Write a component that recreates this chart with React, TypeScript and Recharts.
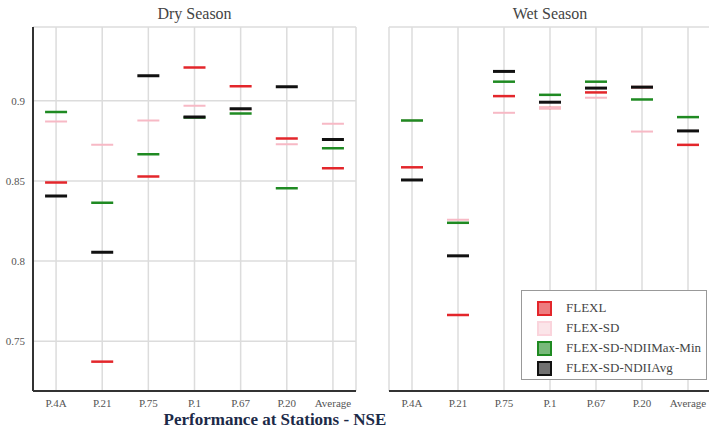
import { ComposedChart, Scatter, XAxis, YAxis, CartesianGrid } from 'recharts';

const stations = ['P.4A', 'P.21', 'P.75', 'P.1', 'P.67', 'P.20', 'Average'];
const yTicks = [0.75, 0.8, 0.85, 0.9];

// Dry season NSE
const dryFlexl = [0.849, 0.7373, 0.8527, 0.9208, 0.9091, 0.8764, 0.8579];
const dryFlexSd = [0.887, 0.8725, 0.8877, 0.8969, 0.8945, 0.8729, 0.8856];
const dryMaxMin = [0.893, 0.8364, 0.8666, 0.8895, 0.892, 0.8454, 0.8704];
const dryAvg = [0.8406, 0.8056, 0.9156, 0.8898, 0.895, 0.9087, 0.8758];

// Wet season NSE
const wetFlexl = [0.8585, 0.7664, 0.9029, 0.8955, 0.9052, 0.9085, 0.8725];
const wetFlexSd = [0.8877, 0.8258, 0.8925, 0.8955, 0.9019, 0.8808, 0.8812];
const wetMaxMin = [0.8877, 0.8239, 0.9119, 0.9037, 0.9119, 0.9008, 0.8898];
const wetAvg = [0.8506, 0.8033, 0.9183, 0.8991, 0.9079, 0.9085, 0.8812];

const series = [
  { key: 'flexl', name: 'FLEXL', color: '#e3262b', width: 2.5 },
  { key: 'flexsd', name: 'FLEX-SD', color: '#f7b9c5', width: 2 },
  { key: 'maxmin', name: 'FLEX-SD-NDIIMax-Min', color: '#1f8a22', width: 2.5 },
  { key: 'avg', name: 'FLEX-SD-NDIIAvg', color: '#111111', width: 3 },
];

const build = (a: number[], b: number[], c: number[], d: number[]) =>
  stations.map((s, i) => ({ station: s, flexl: a[i], flexsd: b[i], maxmin: c[i], avg: d[i] }));

const dryData = build(dryFlexl, dryFlexSd, dryMaxMin, dryAvg);
const wetData = build(wetFlexl, wetFlexSd, wetMaxMin, wetAvg);

const serif = '"Liberation Serif", "Times New Roman", serif';

const dash = (color: string, w: number) => (props: any) => {
  if (props.cx == null || props.cy == null) return <g />;
  return <line x1={props.cx - 11} x2={props.cx + 11} y1={props.cy} y2={props.cy} stroke={color} strokeWidth={w} />;
};

const tickStyle = { fontSize: 11, fill: '#555', fontFamily: serif };

function Panel({ data, showY, width, marginLeft }: { data: any[]; showY: boolean; width: number; marginLeft: number }) {
  return (
    <ComposedChart width={width} height={435} data={data} margin={{ top: 27, right: 2, bottom: 14, left: marginLeft }}>
      <CartesianGrid stroke="#dcdcdc" strokeWidth={1.5} />
      <XAxis dataKey="station" scale="band" tick={tickStyle} tickLine={false} axisLine={{ stroke: '#333', strokeWidth: 2 }} height={30} interval={0} />
      <XAxis xAxisId="top" orientation="top" scale="band" dataKey="station" tick={false} tickLine={false} axisLine={{ stroke: '#333', strokeWidth: 2 }} height={0} />
      <YAxis
        domain={[0.719, 0.946]}
        ticks={yTicks}
        type="number"
        allowDataOverflow
        tick={showY ? tickStyle : false}
        tickLine={false}
        axisLine={{ stroke: '#333', strokeWidth: 2 }}
        width={showY ? 30 : 0}
      />
      <YAxis yAxisId="right" orientation="right" domain={[0.719, 0.946]} tick={false} tickLine={false} axisLine={{ stroke: '#333', strokeWidth: 2 }} width={0} />
      {series.map((s) => (
        <Scatter key={s.key} dataKey={s.key} name={s.name} shape={dash(s.color, s.width)} isAnimationActive={false} />
      ))}
    </ComposedChart>
  );
}

export default function App() {
  return (
    <div style={{ position: 'absolute', left: 0, top: 0, width: 709, height: 435, overflow: 'hidden', background: '#fff', fontFamily: serif }}>
      <div style={{ position: 'absolute', left: 0, top: 0 }}>
        <Panel data={dryData} showY width={358} marginLeft={3} />
      </div>
      <div style={{ position: 'absolute', left: 370, top: 0 }}>
        <Panel data={wetData} showY={false} width={343} marginLeft={19} />
      </div>
      <div style={{ position: 'absolute', left: 33, width: 323, top: 5, textAlign: 'center', fontSize: 16, color: '#444', fontFamily: serif }}>Dry Season</div>
      <div style={{ position: 'absolute', left: 389, width: 322, top: 5, textAlign: 'center', fontSize: 16, color: '#444', fontFamily: serif }}>Wet Season</div>
      <div style={{ position: 'absolute', left: 75, width: 400, top: 410, textAlign: 'center', fontSize: 17, fontWeight: 'bold', color: '#1c2a48', fontFamily: serif }}>
        Performance at Stations - NSE
      </div>
      <div
        style={{
          position: 'absolute',
          left: 521,
          top: 290,
          width: 186,
          height: 90,
          boxSizing: 'border-box',
          border: '1px solid #999',
          background: '#fff',
          padding: '7px 0 0 15px',
          fontFamily: serif,
        }}
      >
        {series.map((s) => (
          <div key={s.key} style={{ display: 'flex', alignItems: 'center', height: 20 }}>
            <span
              style={{
                display: 'inline-block',
                width: 11,
                height: 11,
                border: `2px solid ${s.color}`,
                background: s.color,
                opacity: s.key === 'flexsd' ? 0.6 : 1,
                boxShadow: 'inset 0 0 0 6px rgba(255,255,255,0.4)',
              }}
            />
            <span style={{ marginLeft: 14, fontSize: 13, color: '#444' }}>{s.name}</span>
          </div>
        ))}
      </div>
    </div>
  );
}
